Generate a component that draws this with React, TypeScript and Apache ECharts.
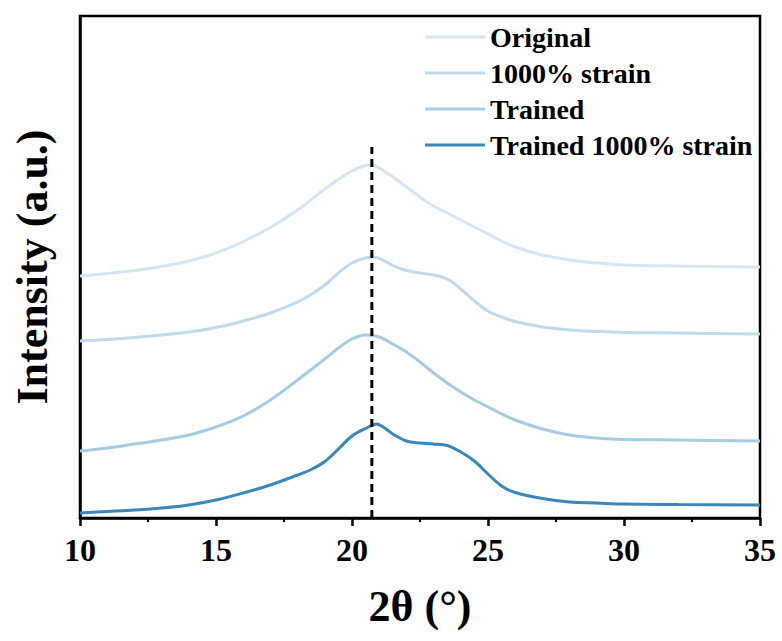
import React, { useEffect, useRef } from "react";
import * as echarts from "echarts";

// 2θ (degrees) and intensity (a.u.)
const xOriginal = [10, 11, 12, 13, 14, 15, 16, 17, 18, 19, 19.5, 20, 20.5, 20.75, 21, 21.5, 22, 22.5, 23, 23.5, 24, 24.5, 25, 25.5, 26, 27, 28, 29, 30, 32, 35];
const yOriginal = [242, 244.5, 247.5, 251.5, 257, 265, 276.5, 290.5, 308, 329, 338.5, 347, 352.5, 353, 350, 341, 331, 321, 312, 305, 298, 291, 284, 277, 271, 263, 258, 255, 253, 252, 251];

const xStrain = [10, 11, 12, 13, 14, 15, 16, 17, 18, 18.5, 19, 19.5, 20, 20.5, 20.8, 21.2, 21.5, 22, 22.5, 23, 23.5, 24, 24.5, 25, 25.5, 26, 27, 28, 29, 30, 32, 35];
const yStrain = [177, 178.5, 180.5, 183, 186, 190.5, 197, 205, 216, 223.5, 233, 245, 255, 260, 261, 257, 252.5, 247.5, 245, 243, 239, 229, 217, 207, 201, 196.5, 191, 188, 186.5, 185.5, 185, 184];

const xTrained = [10, 11, 12, 13, 14, 15, 16, 17, 18, 19, 19.5, 20, 20.5, 21, 21.5, 22, 22.5, 23, 23.5, 24, 24.5, 25, 25.5, 26, 27, 28, 29, 30, 32, 35];
const yTrained = [67, 70, 74, 78, 83, 91, 102, 118, 138, 159, 170, 179, 183, 181, 174, 166, 156, 145, 135, 126, 118, 111, 104, 98, 89, 83, 80, 78.5, 78, 77];

const xTrainedStrain = [10, 11, 12, 13, 14, 15, 16, 17, 18, 18.5, 19, 19.5, 20, 20.5, 20.9, 21.2, 21.5, 22, 22.5, 23, 23.5, 24, 24.5, 25, 25.5, 26, 27, 28, 29, 30, 32, 35];
const yTrainedStrain = [5, 6.5, 8, 10, 13, 18, 25, 33, 43, 48.5, 56.5, 69, 82, 89.5, 94, 90, 84, 77, 75, 74, 72.5, 66, 57, 44, 32, 25.5, 19.5, 16, 15, 14, 13.5, 13];

const seriesNames = ["Original", "1000% strain", "Trained", "Trained 1000% strain"];
const seriesColors = ["#d4e6f2", "#bfdaeb", "#a5cce3", "#3a87b9"];

const peakX = 20.73;
const peakLineTop = 371;

const xTicks = { min: 10, max: 35, interval: 5 };
const yRange = { min: 0, max: 502 };

const FONT = "'Liberation Serif', 'Times New Roman', serif";

function pairs(xs: number[], ys: number[]) {
  return xs.map((x, i) => [x, ys[i]]);
}

export default function App() {
  const ref = useRef<HTMLDivElement>(null);

  useEffect(() => {
    if (!ref.current) return;
    const chart = echarts.init(ref.current, undefined, { renderer: "svg" });
    const xs = [xOriginal, xStrain, xTrained, xTrainedStrain];
    const ys = [yOriginal, yStrain, yTrained, yTrainedStrain];

    const lineSeries = seriesNames.map((name, i) => ({
      name,
      type: "line",
      data: pairs(xs[i], ys[i]),
      smooth: 0.35,
      showSymbol: false,
      symbol: "none",
      lineStyle: { color: seriesColors[i], width: 3 },
      itemStyle: { color: seriesColors[i] },
      z: 3,
    }));

    chart.setOption({
      animation: false,
      backgroundColor: "#fff",
      grid: {
        left: 80,
        right: 22,
        top: 16,
        bottom: 123,
        show: true,
        borderColor: "#000",
        borderWidth: 2.5,
        backgroundColor: "transparent",
      },
      legend: {
        data: seriesNames,
        orient: "vertical",
        left: 420,
        top: 14,
        itemWidth: 60,
        itemHeight: 3,
        itemGap: 0,
        icon: "rect",
        textStyle: {
          fontFamily: FONT,
          fontWeight: "bold",
          fontSize: 28,
          color: "#000",
          lineHeight: 36,
        },
      },
      xAxis: {
        type: "value",
        min: xTicks.min,
        max: xTicks.max,
        interval: xTicks.interval,
        name: "2θ (°)",
        nameLocation: "middle",
        nameGap: 66,
        nameTextStyle: {
          fontFamily: FONT,
          fontWeight: "bold",
          fontSize: 44,
          color: "#000",
        },
        axisLine: { show: true, lineStyle: { color: "#000", width: 2.5 } },
        axisTick: { show: true, inside: false, length: 8, lineStyle: { color: "#000", width: 2.5 } },
        minorTick: { show: true, splitNumber: 2, length: 4, lineStyle: { color: "#000", width: 2 } },
        axisLabel: {
          fontFamily: FONT,
          fontWeight: "bold",
          fontSize: 32,
          color: "#000",
          margin: 16,
        },
        splitLine: { show: false },
        minorSplitLine: { show: false },
      },
      yAxis: {
        type: "value",
        min: yRange.min,
        max: yRange.max,
        name: "Intensity (a.u.)",
        nameLocation: "middle",
        nameRotate: 90,
        nameGap: 26,
        nameTextStyle: {
          fontFamily: FONT,
          fontWeight: "bold",
          fontSize: 44,
          color: "#000",
        },
        axisLine: { show: true, lineStyle: { color: "#000", width: 2.5 } },
        axisTick: { show: false },
        axisLabel: { show: false },
        splitLine: { show: false },
      },
      series: [
        ...lineSeries,
        {
          name: "peak",
          type: "line",
          data: [
            [peakX, yRange.min],
            [peakX, peakLineTop],
          ],
          showSymbol: false,
          symbol: "none",
          lineStyle: { color: "#000", width: 3, type: [8, 5] },
          z: 4,
        },
      ],
    });
    return () => chart.dispose();
  }, []);

  return (
    <div
      ref={ref}
      style={{ position: "fixed", left: 0, top: 0, width: 782, height: 641, background: "#fff" }}
    />
  );
}
